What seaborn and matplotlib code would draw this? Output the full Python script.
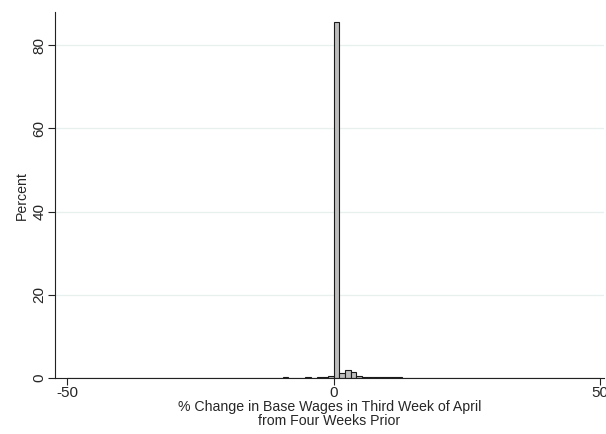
import matplotlib
matplotlib.use("Agg")
import matplotlib.pyplot as plt
import numpy as np
import pandas as pd
import seaborn as sns

# percent of observations per bin, bins of width 100/94 from -50 to 50
left_pct = [0.06, 0.04, 0.05, 0.04, 0.05, 0.06, 0.04, 0.05, 0.05, 0.04,
            0.05, 0.06, 0.05, 0.04, 0.05, 0.06, 0.05, 0.07, 0.05, 0.06,
            0.05, 0.07, 0.06, 0.05, 0.08, 0.06, 0.07, 0.06, 0.08, 0.07,
            0.12, 0.08, 0.07, 0.09, 0.08, 0.10, 0.09, 0.12, 0.30, 0.10,
            0.12, 0.10, 0.14, 0.12, 0.15, 0.18, 0.55]
right_pct = [85.5, 1.2, 2.0, 1.45, 0.5, 0.3, 0.22, 0.2, 0.16, 0.15,
             0.14, 0.13, 0.12, 0.11, 0.12, 0.10, 0.09, 0.10, 0.08, 0.09,
             0.08, 0.07, 0.08, 0.06, 0.07, 0.06, 0.06, 0.05, 0.06, 0.05,
             0.05, 0.05, 0.04, 0.05, 0.04, 0.05, 0.04, 0.04, 0.05, 0.04,
             0.04, 0.04, 0.03, 0.04, 0.03, 0.04, 0.05]
y_ticks = [0, 20, 40, 60, 80]
x_ticks = [-50, 0, 50]

centers = np.linspace(-50, 50, 95)[:-1] + 50 / 94
df = pd.DataFrame({"change": centers, "pct": left_pct + right_pct})

sns.set_style("white")
plt.rcParams["font.family"] = ["Liberation Sans", "DejaVu Sans"]
plt.rcParams["axes.unicode_minus"] = False

fig = plt.figure(figsize=(6.06, 4.34), dpi=100)
ax = fig.add_axes([0.0908, 0.129, 0.906, 0.843])

sns.histplot(data=df, x="change", weights="pct", bins=len(centers),
             binrange=(-50, 50), ax=ax,
             color="#bdbdbd", edgecolor="#1a1a1a", linewidth=0.8, alpha=1)

ax.set_xlim(-52.25, 50.75)
ax.set_ylim(0, 87.9)
ax.set_yticks(y_ticks)
ax.set_xticks(x_ticks)
for t in y_ticks[1:]:
    ax.axhline(t, color="#e7efef", linewidth=0.9, zorder=0)

ax.tick_params(axis="both", length=5, width=0.8, color="#222222",
               labelsize=11, pad=1, left=True, bottom=True)
plt.setp(ax.get_yticklabels(), rotation=90, va="center")
ax.set_ylabel("Percent", fontsize=10.2, labelpad=3)
ax.set_xlabel("% Change in Base Wages in Third Week of April\nfrom Four Weeks Prior",
              fontsize=10.2, labelpad=0, linespacing=0.95)

for side in ["top", "right"]:
    ax.spines[side].set_visible(False)
for side in ["left", "bottom"]:
    ax.spines[side].set_color("#222222")
    ax.spines[side].set_linewidth(0.8)

fig.savefig("out.png", dpi=100)
